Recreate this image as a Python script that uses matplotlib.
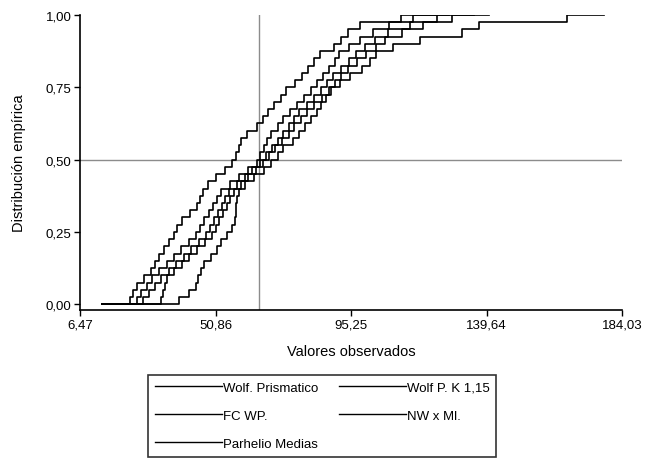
import numpy as np
import matplotlib
matplotlib.use("Agg")
import matplotlib.pyplot as plt

plt.rcParams["font.family"] = ["Liberation Sans", "DejaVu Sans"]

# observed values per method (sorted), 40 obs each
wolf_prismatico = [25.0, 26.6, 28.3, 30.2, 32.5, 35.1, 37.4, 39.6, 42.2, 44.5,
                   45.8, 47.1, 48.7, 50.0, 51.3, 52.6, 55.6, 58.5, 61.4, 64.4,
                   65.3, 66.6, 67.6, 68.9, 71.2, 73.1, 75.4, 77.7, 80.0, 82.2,
                   84.2, 86.1, 88.1, 90.1, 91.4, 94.6, 98.2, 102.4, 107.6, 115.4]
wolf_pk115 = [27.0, 29.2, 31.2, 33.1, 35.7, 38.0, 40.6, 42.9, 45.5, 47.8,
              49.1, 50.4, 51.7, 53.0, 54.0, 55.3, 57.9, 60.5, 62.7, 65.3,
              67.3, 69.2, 71.2, 73.1, 74.8, 76.7, 78.3, 80.9, 83.2, 85.5,
              87.4, 89.4, 92.0, 94.6, 96.9, 99.8, 103.1, 107.3, 114.4, 123.5]
fc_wp = [33.1, 33.8, 34.4, 35.1, 37.4, 40.0, 42.2, 44.8, 47.4, 49.7,
         51.0, 52.0, 53.3, 54.6, 55.6, 56.9, 59.2, 61.4, 64.0, 66.3,
         68.3, 70.5, 72.5, 74.8, 76.7, 78.7, 80.9, 83.2, 85.8, 88.1,
         90.1, 92.0, 94.3, 97.2, 100.1, 103.4, 106.3, 111.8, 118.7, 128.4]
nw_ml = [39.0, 42.2, 44.5, 45.2, 46.1, 47.1, 49.4, 51.3, 52.6, 54.6,
         56.2, 57.2, 57.5, 57.6, 57.9, 58.5, 60.5, 63.4, 66.6, 68.9,
         71.2, 73.1, 76.4, 78.3, 80.3, 82.2, 84.2, 85.5, 87.1, 88.7,
         91.7, 94.9, 98.8, 101.4, 103.4, 108.9, 117.7, 131.7, 137.2, 166.1]
parhelio = [22.7, 23.7, 25.0, 27.6, 29.6, 30.9, 32.5, 34.1, 35.7, 37.4,
            38.3, 40.0, 42.6, 44.8, 45.8, 46.8, 48.4, 51.0, 54.0, 56.2,
            57.5, 58.5, 59.2, 61.1, 64.4, 66.3, 67.9, 69.9, 72.2, 74.1,
            77.0, 79.3, 81.3, 83.2, 85.2, 89.7, 92.0, 94.3, 98.2, 111.5]

series = [wolf_prismatico, wolf_pk115, fc_wp, nw_ml, parhelio]
labels = ["Wolf. Prismatico", "Wolf P. K 1,15", "FC WP.", "NW x Ml.", "Parhelio Medias"]

x_start = 13.8      # curves start at the overall minimum
tail = 12.0         # last level is drawn a bit past the last value
ref_x = 65.0        # reference lines
ref_y = 0.5

xticks = [6.47, 50.86, 95.25, 139.64, 184.03]
yticks = [0.0, 0.25, 0.5, 0.75, 1.0]

fig = plt.figure(figsize=(6.46, 4.64), dpi=100)
ax = fig.add_axes([0.1238, 0.3297, 0.8392, 0.6358])

ax.axvline(ref_x, color="#8c8c8c", lw=1.0, zorder=1)
ax.axhline(ref_y, color="#8c8c8c", lw=1.0, zorder=1)

handles = []
for vals, lab in zip(series, labels):
    v = np.sort(np.array(vals))
    n = len(v)
    xs = np.r_[x_start, v, v[-1] + tail]
    ys = np.r_[0.0, np.arange(1, n + 1) / n, 1.0]
    h, = ax.step(xs, ys, where="post", color="black", lw=1.2, label=lab, zorder=2)
    handles.append(h)

ax.set_xlim(xticks[0], xticks[-1])
ax.set_ylim(-0.02, 1.0)
ax.set_xticks(xticks)
ax.set_xticklabels([f"{t:.2f}".replace(".", ",") for t in xticks])
ax.set_yticks(yticks)
ax.set_yticklabels([f"{t:.2f}".replace(".", ",") for t in yticks])
ax.tick_params(labelsize=9.5, length=4, width=1, color="black", pad=2)

for s in ["top", "right"]:
    ax.spines[s].set_visible(False)
for s in ["left", "bottom"]:
    ax.spines[s].set_linewidth(1.2)

ax.set_xlabel("Valores observados", fontsize=10.5, labelpad=10)
ax.set_ylabel("Distribución empírica", fontsize=10.5, labelpad=14)

# legend fills column by column: reorder so rows come out right
order = [0, 2, 4, 1, 3]
leg = fig.legend([handles[i] for i in order], [labels[i] for i in order],
                 loc="upper left", bbox_to_anchor=(148 / 646, 1 - 376 / 464),
                 ncol=2, fontsize=9.5, frameon=True, fancybox=False,
                 edgecolor="black", handlelength=5.1, handletextpad=0.05,
                 columnspacing=1.6, labelspacing=1.2, borderpad=0.5,
                 borderaxespad=0)
leg.get_frame().set_linewidth(1.2)
for h in leg.get_lines():
    h.set_linewidth(1.0)

fig.savefig("out.png", dpi=100)
